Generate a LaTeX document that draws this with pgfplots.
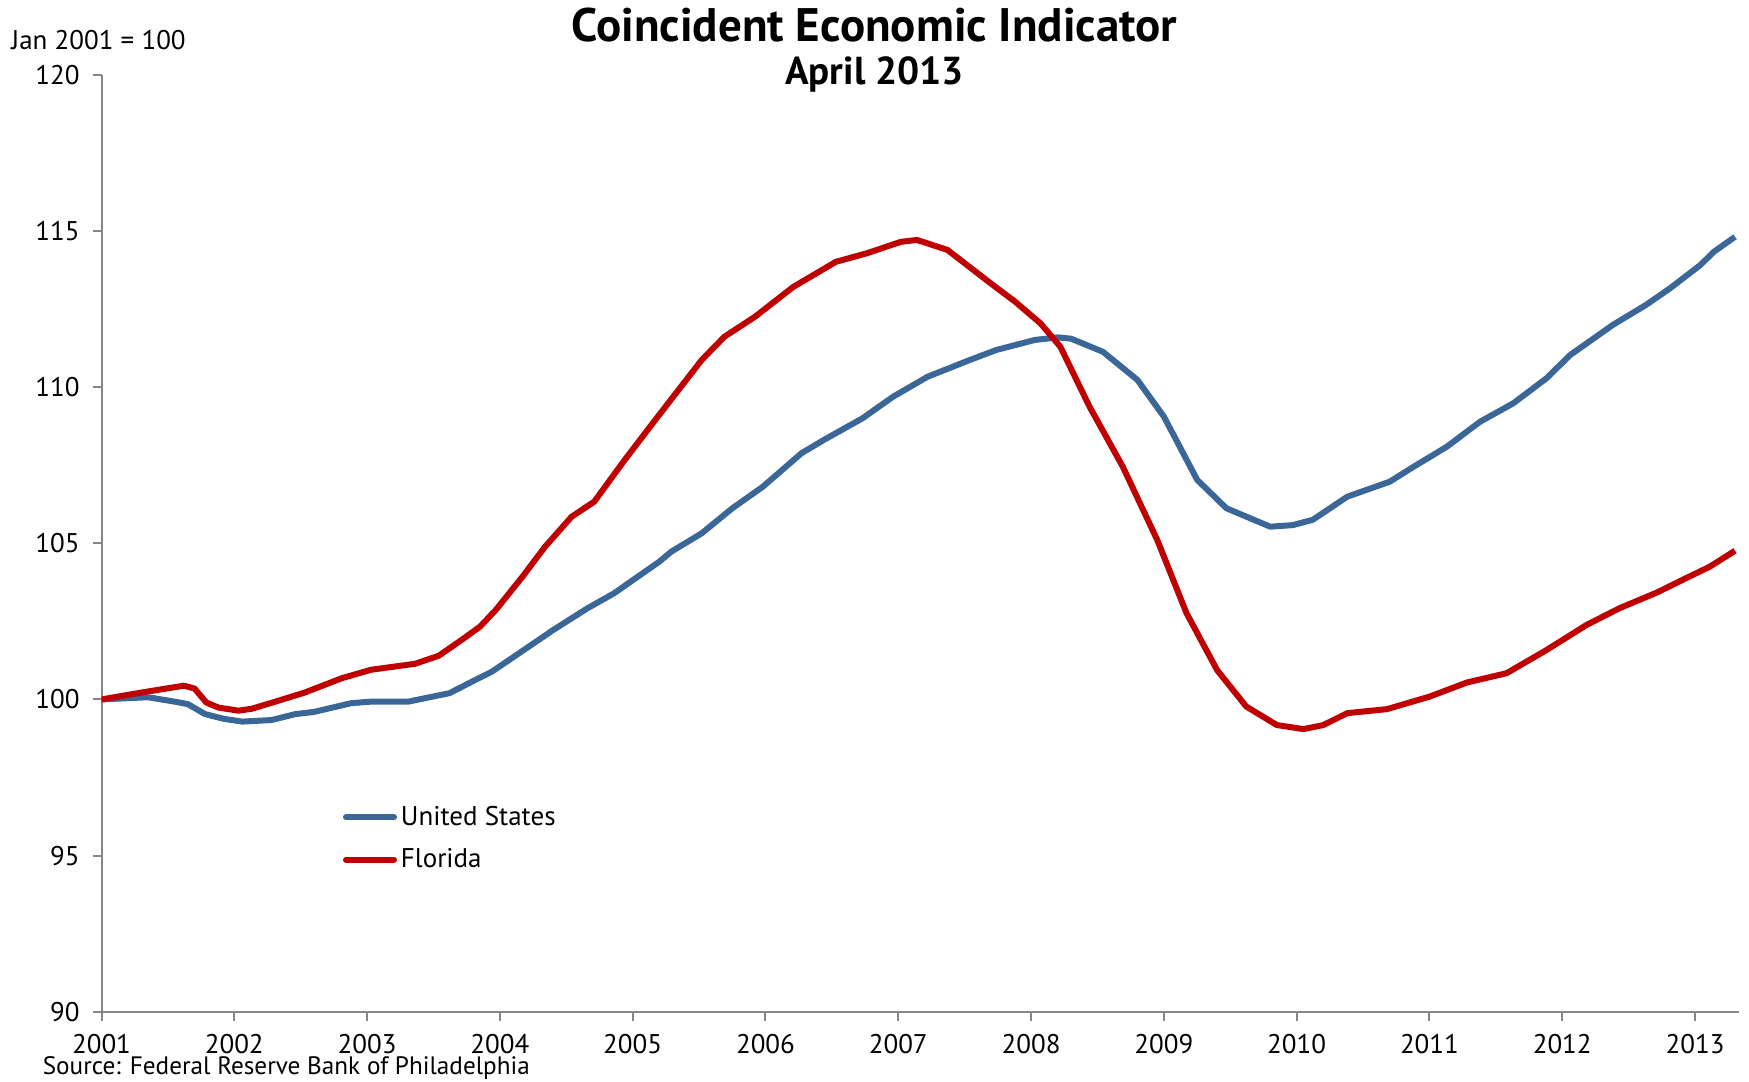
\documentclass[border=0pt]{standalone}
\usepackage{pgfplots}
\pgfplotsset{compat=1.18}
\usepackage{fontspec}
\setmainfont{PT Sans}
\definecolor{usblue}{HTML}{3A6798}
\definecolor{flred}{HTML}{C00000}
\definecolor{axgray}{HTML}{868686}
\begin{document}
\begin{tikzpicture}
\path[use as bounding box] (0,0) rectangle (874.5pt,540.5pt);
\begin{axis}[
  at={(50.75pt,34.6pt)}, anchor=south west,
  width=818.75pt, height=468.55pt, scale only axis,
  xmin=2001, xmax=2013.33, ymin=90, ymax=120,
  axis lines*=left,
  axis line style={axgray, line width=1pt},
  tick style={axgray, line width=1pt},
  tick align=outside, major tick length=4.5pt,
  xtick={2001,...,2013}, ytick={90,95,...,120},
  /pgf/number format/assume math mode=true,
  xticklabel style={/pgf/number format/1000 sep={}, font=\fontsize{13.5}{15}\selectfont, yshift=-3pt},
  yticklabel style={font=\fontsize{13.5}{15}\selectfont, xshift=-3pt},
  legend style={draw=none, fill=none, at={(axis cs:2002.77,96.85)}, anchor=north west,
    font=\fontsize{13.5}{15}\selectfont, row sep=6pt},
  legend cell align=left,
  legend image code/.code={\draw[#1, line cap=round] (0cm,0cm) -- (24pt,0cm);},
]
\addplot[usblue, line width=3pt, line join=round] coordinates {
(2001.00,100.00) (2001.35,100.07) (2001.55,99.93) (2001.65,99.85) (2001.78,99.53)
(2001.92,99.38) (2002.06,99.29) (2002.28,99.34) (2002.46,99.53) (2002.60,99.60)
(2002.88,99.88) (2003.03,99.93) (2003.31,99.93) (2003.62,100.20) (2003.79,100.57)
(2003.94,100.89) (2004.20,101.64) (2004.40,102.22) (2004.66,102.92) (2004.86,103.40)
(2005.20,104.41) (2005.29,104.73) (2005.52,105.32) (2005.75,106.12) (2005.98,106.81)
(2006.27,107.88) (2006.44,108.31) (2006.73,109.00) (2006.96,109.69) (2007.22,110.33)
(2007.54,110.87) (2007.74,111.19) (2008.03,111.51) (2008.20,111.59) (2008.30,111.55)
(2008.54,111.13) (2008.80,110.23) (2009.00,109.05) (2009.25,107.03) (2009.47,106.12)
(2009.80,105.53) (2009.97,105.58) (2010.12,105.75) (2010.38,106.49) (2010.70,106.97)
(2010.88,107.45) (2011.13,108.09) (2011.38,108.89) (2011.63,109.48) (2011.88,110.28)
(2012.06,111.03) (2012.38,111.99) (2012.63,112.63) (2012.81,113.16) (2013.04,113.91)
(2013.14,114.33) (2013.30,114.81)
};
\addlegendentry{United States}
\addplot[flred, line width=3pt, line join=round] coordinates {
(2001.00,100.00) (2001.30,100.22) (2001.62,100.44) (2001.70,100.35) (2001.79,99.90)
(2001.88,99.74) (2002.03,99.64) (2002.13,99.70) (2002.31,99.93) (2002.53,100.22)
(2002.81,100.68) (2003.03,100.95) (2003.36,101.14) (2003.54,101.40) (2003.71,101.90)
(2003.85,102.33) (2003.97,102.87) (2004.17,103.93) (2004.34,104.89) (2004.54,105.85)
(2004.71,106.33) (2004.94,107.67) (2005.17,108.95) (2005.52,110.87) (2005.69,111.61)
(2005.92,112.25) (2006.21,113.21) (2006.53,114.01) (2006.76,114.28) (2007.02,114.65)
(2007.14,114.71) (2007.37,114.39) (2007.68,113.37) (2007.88,112.73) (2008.07,112.04)
(2008.22,111.29) (2008.44,109.37) (2008.69,107.45) (2008.95,105.10) (2009.17,102.76)
(2009.40,100.94) (2009.62,99.77) (2009.85,99.18) (2010.05,99.05) (2010.20,99.18)
(2010.38,99.56) (2010.68,99.69) (2011.00,100.09) (2011.28,100.54) (2011.58,100.84)
(2011.88,101.58) (2012.18,102.38) (2012.43,102.92) (2012.71,103.42) (2012.94,103.90)
(2013.11,104.25) (2013.30,104.76)
};
\addlegendentry{Florida}
\end{axis}
\node[anchor=center, font=\fontsize{23.5}{26}\selectfont\bfseries] at (437.3pt,528.0pt) {Coincident Economic Indicator};
\node[anchor=center, font=\fontsize{19.5}{22}\selectfont\bfseries] at (437.3pt,503.5pt) {April 2013};
\node[anchor=west, inner sep=0pt, font=\fontsize{13.5}{15}\selectfont] at (5.5pt,520.5pt) {Jan 2001 = 100};
\node[anchor=west, inner sep=0pt, font=\fontsize{12.6}{14}\selectfont] at (21.2pt,6.5pt) {Source: Federal Reserve Bank of Philadelphia};
\end{tikzpicture}
\end{document}
